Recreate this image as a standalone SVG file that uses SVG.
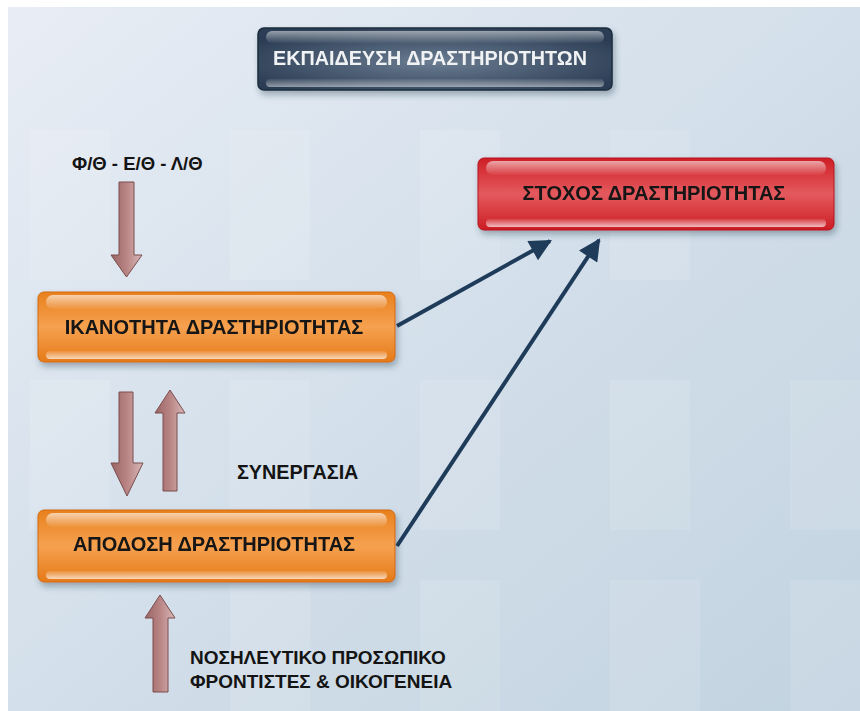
<svg xmlns="http://www.w3.org/2000/svg" width="860" height="711" viewBox="0 0 860 711">
<defs>
<style>
.lbl{font-family:"Liberation Sans",Arial,sans-serif;font-weight:bold;fill:#141414;text-anchor:middle;dominant-baseline:central}
.free{font-family:"Liberation Sans",Arial,sans-serif;font-weight:bold;fill:#141414;dominant-baseline:central}
.conn{stroke:#1f3b5a;stroke-width:4;fill:none;marker-end:url(#navyHead)}
.brown{fill:url(#brownG);stroke:#7a4c4c;stroke-width:1}
.gloss{fill:url(#glossG)}
.band{fill:#ffffff;opacity:0.11}
</style>
<linearGradient id="bgG" x1="0" y1="0" x2="1" y2="1">
<stop offset="0" stop-color="#e8edf5"/>
<stop offset="0.5" stop-color="#d3dfea"/>
<stop offset="1" stop-color="#c2d3e0"/>
</linearGradient>
<linearGradient id="orangeG" x1="0" y1="0" x2="0" y2="1">
<stop offset="0" stop-color="#e8801c"/>
<stop offset="0.5" stop-color="#f6a150"/>
<stop offset="1" stop-color="#e57a18"/>
</linearGradient>
<linearGradient id="redG" x1="0" y1="0" x2="0" y2="1">
<stop offset="0" stop-color="#cf1e26"/>
<stop offset="0.5" stop-color="#e45a5e"/>
<stop offset="1" stop-color="#cc1c24"/>
</linearGradient>
<radialGradient id="navyG" cx="0.5" cy="0.55" r="0.6">
<stop offset="0" stop-color="#6b7d92"/>
<stop offset="1" stop-color="#2b3d54"/>
</radialGradient>
<linearGradient id="glossG" x1="0" y1="0" x2="0" y2="1">
<stop offset="0" stop-color="#ffffff" stop-opacity="0.85"/>
<stop offset="1" stop-color="#ffffff" stop-opacity="0.05"/>
</linearGradient>
<linearGradient id="glossB" x1="0" y1="0" x2="0" y2="1">
<stop offset="0" stop-color="#ffffff" stop-opacity="0.1"/>
<stop offset="1" stop-color="#ffffff" stop-opacity="0.7"/>
</linearGradient>
<linearGradient id="brownG" x1="0" y1="0" x2="1" y2="0">
<stop offset="0" stop-color="#9a6464"/>
<stop offset="0.5" stop-color="#b98484"/>
<stop offset="1" stop-color="#d8b8b8"/>
</linearGradient>
<filter id="sh" x="-10%" y="-20%" width="120%" height="150%">
<feDropShadow dx="2" dy="4" stdDeviation="3" flood-color="#203040" flood-opacity="0.35"/>
</filter>
<marker id="navyHead" viewBox="0 0 10 10" refX="9" refY="5" markerWidth="6" markerHeight="5.5" orient="auto" markerUnits="strokeWidth">
<path d="M0,0 L10,5 L0,10 z" fill="#1f3b5a"/>
</marker>
</defs>

<rect x="0" y="0" width="860" height="711" fill="#ffffff"/>
<rect x="8" y="7" width="852" height="704" fill="url(#bgG)"/>
<g id="background-bands">
<rect class="band" x="30" y="130" width="80" height="150"/>
<rect class="band" x="230" y="130" width="80" height="150"/>
<rect class="band" x="420" y="130" width="80" height="150"/>
<rect class="band" x="610" y="130" width="80" height="150"/>
<rect class="band" x="30" y="380" width="80" height="150"/>
<rect class="band" x="230" y="380" width="80" height="150"/>
<rect class="band" x="420" y="380" width="80" height="150"/>
<rect class="band" x="610" y="380" width="80" height="150"/>
<rect class="band" x="790" y="380" width="70" height="150"/>
<rect class="band" x="230" y="580" width="80" height="131"/>
<rect class="band" x="420" y="580" width="80" height="131"/>
<rect class="band" x="610" y="580" width="90" height="131"/>
<rect class="band" x="790" y="580" width="70" height="131"/>
</g>

<g id="connectors">
<line class="conn" x1="397" y1="326" x2="550" y2="241"/>
<line class="conn" x1="397" y1="546" x2="599" y2="240"/>
<polygon class="brown" points="119,182 134,182 134,255 142,255 126.5,277 111,255 119,255"/>
<polygon class="brown" points="119,392 133,392 133,463 143,463 127,496 111,463 119,463"/>
<polygon class="brown" points="170,390 185,413 177,413 177,491 163,491 163,413 155,413"/>
<polygon class="brown" points="160,595 175,618 168,618 168,692 153,692 153,618 145,618"/>
</g>

<g id="title" filter="url(#sh)">
<rect x="258" y="28" width="354" height="62" rx="6" fill="url(#navyG)" stroke="#1d2c3e" stroke-width="1.5"/>
<rect x="266" y="31" width="338" height="12" rx="6" fill="url(#glossG)" opacity="0.6"/>
<rect x="266" y="79" width="338" height="8" rx="4" fill="url(#glossB)" opacity="0.7"/>
<text class="lbl" x="430" y="58" font-size="19.8" style="fill:#f0f2f4">ΕΚΠΑΙΔΕΥΣΗ ΔΡΑΣΤΗΡΙΟΤΗΤΩΝ</text>
</g>

<g id="goal" filter="url(#sh)">
<rect x="478" y="158" width="356" height="72" rx="6" fill="url(#redG)" stroke="#b5141c" stroke-width="1"/>
<rect x="486" y="161" width="340" height="14" rx="7" class="gloss" opacity="0.7"/>
<rect x="486" y="219" width="340" height="8" rx="4" fill="url(#glossB)"/>
<text class="lbl" x="654" y="193" font-size="20">ΣΤΟΧΟΣ ΔΡΑΣΤΗΡΙΟΤΗΤΑΣ</text>
</g>

<g id="ability" filter="url(#sh)">
<rect x="38" y="292" width="357" height="70" rx="6" fill="url(#orangeG)" stroke="#d06a10" stroke-width="1"/>
<rect x="46" y="295" width="341" height="14" rx="7" class="gloss" opacity="0.75"/>
<rect x="46" y="351" width="341" height="8" rx="4" fill="url(#glossB)"/>
<text class="lbl" x="214" y="327" font-size="20">ΙΚΑΝΟΤΗΤΑ ΔΡΑΣΤΗΡΙΟΤΗΤΑΣ</text>
</g>

<g id="performance" filter="url(#sh)">
<rect x="38" y="510" width="357" height="72" rx="6" fill="url(#orangeG)" stroke="#d06a10" stroke-width="1"/>
<rect x="46" y="513" width="341" height="14" rx="7" class="gloss" opacity="0.75"/>
<rect x="46" y="571" width="341" height="8" rx="4" fill="url(#glossB)"/>
<text class="lbl" x="214" y="544" font-size="20">ΑΠΟΔΟΣΗ ΔΡΑΣΤΗΡΙΟΤΗΤΑΣ</text>
</g>

<g id="labels">
<text class="free" x="72" y="163" font-size="18.5">Φ/Θ - Ε/Θ - Λ/Θ</text>
<text class="free" x="237" y="472" font-size="19.8">ΣΥΝΕΡΓΑΣΙΑ</text>
<text class="free" x="190" y="657" font-size="19">ΝΟΣΗΛΕΥΤΙΚΟ ΠΡΟΣΩΠΙΚΟ</text>
<text class="free" x="190" y="681" font-size="19">ΦΡΟΝΤΙΣΤΕΣ &amp; ΟΙΚΟΓΕΝΕΙΑ</text>
</g>
</svg>
